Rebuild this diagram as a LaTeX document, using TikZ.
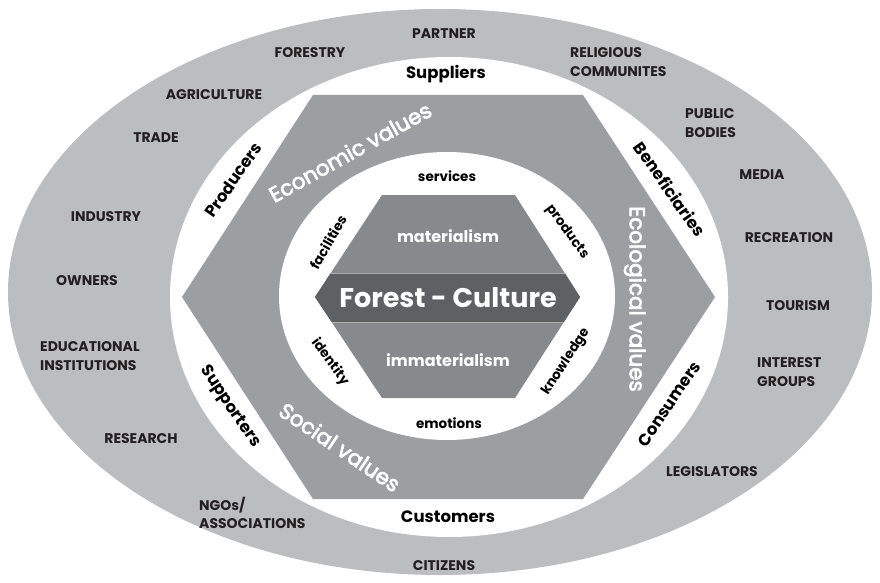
\documentclass[tikz,border=0pt]{standalone}
\usepackage{fontspec}
\setmainfont{Poppins}
\newfontfamily\valfont[FakeBold=3]{Poppins}
\definecolor{ellc}{HTML}{BCBDBF}
\definecolor{hexc}{HTML}{9C9EA1}
\definecolor{inlight}{HTML}{88898C}
\definecolor{indark}{HTML}{5F6062}
\definecolor{labelc}{HTML}{231F20}
\begin{document}
\begin{tikzpicture}[x=1pt,y=-1pt,
  outerlbl/.style={font=\bfseries\fontsize{14}{19}\selectfont, text=labelc, align=left, inner sep=0pt},
  ringlbl/.style={font=\bfseries\fontsize{16.5}{18}\selectfont, text=black, inner sep=0pt},
  vallbl/.style={font=\valfont\fontsize{21.5}{24}\selectfont, text=white, inner sep=0pt},
  innerlbl/.style={font=\bfseries\fontsize{13.5}{15}\selectfont, text=black, inner sep=0pt},
  hexlbl/.style={font=\bfseries\fontsize{16}{18}\selectfont, text=white, inner sep=0pt}]
\useasboundingbox (0,0) rectangle (880,583);
% shapes
\fill[ellc] (440,292) ellipse [x radius=432pt, y radius=283pt];
\fill[white] (449,297) ellipse [x radius=279pt, y radius=240pt];
\fill[hexc] (182,297) -- (313,95) -- (583,95) -- (715,297) -- (583,499) -- (313,499) -- cycle;
\fill[white] (447,296) ellipse [x radius=168pt, y radius=144pt];
\fill[inlight] (315,297) -- (382,195) -- (515,195) -- (580,297) -- (515,398) -- (382,398) -- cycle;
\begin{scope}
  \clip (315,297) -- (382,195) -- (515,195) -- (580,297) -- (515,398) -- (382,398) -- cycle;
  \fill[indark] (300,273) rectangle (600,322);
  \draw[inlight!70!white, line width=0.8pt] (300,273) -- (600,273) (300,322) -- (600,322);
\end{scope}
% outer labels
\node[outerlbl] (forestry) at (310,53) {FORESTRY};
\node[outerlbl] (partner) at (444,34) {PARTNER};
\node[outerlbl, anchor=west] (relig) at (570,62) {RELIGIOUS\\COMMUNITES};
\node[outerlbl] (agri) at (214,95) {AGRICULTURE};
\node[outerlbl] (trade) at (156,138) {TRADE};
\node[outerlbl, anchor=west] (public) at (685,123) {PUBLIC\\BODIES};
\node[outerlbl] (media) at (762,175) {MEDIA};
\node[outerlbl] (industry) at (106,217) {INDUSTRY};
\node[outerlbl] (recreation) at (789,238) {RECREATION};
\node[outerlbl] (owners) at (87,281) {OWNERS};
\node[outerlbl] (tourism) at (798,306) {TOURISM};
\node[outerlbl, anchor=west] (edu) at (40,356) {EDUCATIONAL\\INSTITUTIONS};
\node[outerlbl, anchor=west] (interest) at (757,372) {INTEREST\\GROUPS};
\node[outerlbl] (research) at (141,439) {RESEARCH};
\node[outerlbl] (legis) at (712,472) {LEGISLATORS};
\node[outerlbl, anchor=west, font=\bfseries\fontsize{14}{18}\selectfont] (ngo) at (199,513) {NGOs/\\ASSOCIATIONS};
\node[outerlbl] (citizens) at (444,566) {CITIZENS};
% ring labels
\node[ringlbl] (suppliers) at (446,74) {Suppliers};
\node[ringlbl] (customers) at (448,517) {Customers};
\node[ringlbl, rotate=55] (producers) at (233,180) {Producers};
\node[ringlbl, rotate=-55] (benef) at (670,189) {Beneficiaries};
\node[ringlbl, rotate=-56] (supporters) at (230,407) {Supporters};
\node[ringlbl, rotate=56] (consumers) at (669,404) {Consumers};
% value labels
\node[vallbl, rotate=29] (econ) at (350,152) {Economic values};
\node[vallbl, rotate=-90] (ecol) at (635,299) {Ecological values};
\node[vallbl, rotate=-34] (social) at (340,447) {Social values};
% inner ring labels
\node[innerlbl] (services) at (447,176) {services};
\node[innerlbl] (emotions) at (449,423) {emotions};
\node[innerlbl, rotate=60] (facilities) at (328,242) {facilities};
\node[innerlbl, rotate=-54] (products) at (567,232) {products};
\node[innerlbl, rotate=-54] (identity) at (330,362) {identity};
\node[innerlbl, rotate=57] (knowledge) at (566,362) {knowledge};
% hexagon labels
\node[hexlbl] (mat) at (448,236) {materialism};
\node[hexlbl] (immat) at (448,360) {immaterialism};
\node[font=\bfseries\fontsize{27}{30}\selectfont, text=white, inner sep=0pt] (fc) at (448,298) {Forest - Culture};
\end{tikzpicture}
\end{document}
